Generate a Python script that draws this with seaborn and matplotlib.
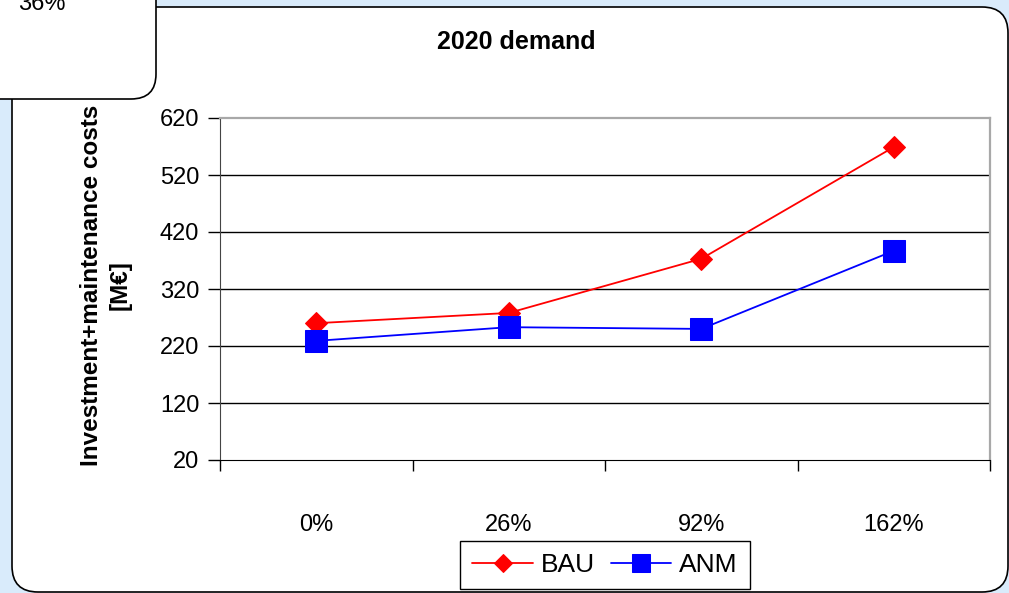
import numpy as np
import pandas as pd
import matplotlib
matplotlib.use('Agg')
import matplotlib.pyplot as plt
import matplotlib.patches as mpatches
import seaborn as sns

# values
demand = ['0%', '26%', '92%', '162%']
bau = [260, 278, 373, 569]
anm = [229, 253, 250, 387]
y_ticks = [20, 120, 220, 320, 420, 520, 620]

df = pd.DataFrame({
    'demand': demand * 2,
    'cost': bau + anm,
    'scenario': ['BAU'] * len(demand) + ['ANM'] * len(demand),
})

sns.set_style('white')
plt.rcParams['font.family'] = ['Liberation Sans', 'DejaVu Sans']
plt.rcParams['text.color'] = 'black'
plt.rcParams['xtick.color'] = 'black'
plt.rcParams['ytick.color'] = 'black'

W, H = 1009, 593
fig = plt.figure(figsize=(W / 100, H / 100), dpi=100, facecolor='#d9ebfb')

# white rounded panel behind the chart
panel = mpatches.FancyBboxPatch((12 / 100, 1 / 100), 996 / 100, 585 / 100,
                                boxstyle='round,pad=0,rounding_size=0.26',
                                transform=fig.dpi_scale_trans, facecolor='white',
                                edgecolor='black', lw=1.2, zorder=-5)
fig.patches.append(panel)

ax = fig.add_axes([220 / W, 1 - 460 / H, 770 / W, 342 / H])
ax.set_facecolor('white')

sns.lineplot(data=df[df.scenario == 'BAU'], x='demand', y='cost', color='red',
             marker='D', markersize=11.5, markeredgecolor='red', lw=1.3, ax=ax, label='BAU')
sns.lineplot(data=df[df.scenario == 'ANM'], x='demand', y='cost', color='blue',
             marker='s', markersize=16, markeredgecolor='blue', lw=1.3, ax=ax, label='ANM')

ax.set_xlim(-0.5, len(demand) - 0.5)
ax.set_ylim(y_ticks[0], y_ticks[-1])
ax.set_yticks(y_ticks)
ax.set_xticks(range(len(demand)), demand)
ax.set_xticks(np.arange(len(demand) + 1) - 0.5, minor=True)
ax.set_xlabel('')
ax.set_ylabel('')

ax.yaxis.grid(True, color='black', lw=1)
gl = ax.get_ygridlines()
gl[0].set_visible(False)
gl[-1].set_visible(False)

ax.tick_params(axis='y', which='major', left=True, length=9, width=1, color='black',
               direction='out', pad=6, labelsize=17)
ax.tick_params(axis='x', which='major', bottom=True, length=0, pad=39, labelsize=17)
ax.tick_params(axis='x', which='minor', bottom=True, length=8, width=1, color='black',
               direction='out')

for side in ['top', 'right']:
    ax.spines[side].set_color('#a8a8a8')
    ax.spines[side].set_linewidth(1.6)
ax.spines['left'].set_color('#444444')
ax.spines['bottom'].set_color('black')

handles, labels = ax.get_legend_handles_labels()
leg = ax.legend(handles, labels, ncol=2, loc='center',
                bbox_to_anchor=(605 / W, 1 - 565 / H), bbox_transform=fig.transFigure,
                frameon=True, fancybox=False, framealpha=1, edgecolor='black',
                fontsize=19, handlelength=2.3, columnspacing=0.6, handletextpad=0.3,
                borderpad=0.45, borderaxespad=0, markerscale=0.82)
leg.get_frame().set_linewidth(1)

fig.text(516 / W, 1 - 42 / H, '2020 demand', ha='center', va='center',
         fontsize=18, fontweight='bold')
fig.text(106 / W, 1 - 285 / H, 'Investment+maintenance costs\n[M€]', rotation=90,
         ha='center', va='center', multialignment='center', fontsize=17.5,
         fontweight='bold', linespacing=1.3)

# clipped text box in the corner
inset = mpatches.FancyBboxPatch((-0.4, (H - 99) / 100), 1.96, 1.5,
                                boxstyle='round,pad=0,rounding_size=0.25',
                                transform=fig.dpi_scale_trans, facecolor='white',
                                edgecolor='black', lw=1.2, zorder=10)
fig.patches.append(inset)
fig.text(18 / W, 1 - 10 / H, '36%', ha='left', va='baseline', fontsize=17, zorder=11)

fig.savefig('out.png', dpi=100, facecolor=fig.get_facecolor())
